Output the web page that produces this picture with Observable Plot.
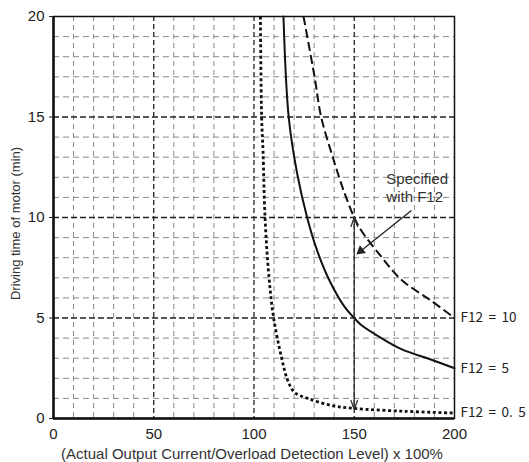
<!DOCTYPE html>
<html>
<head>
<meta charset="utf-8">
<script src="https://cdn.jsdelivr.net/npm/d3@7"></script>
<script src="https://cdn.jsdelivr.net/npm/@observablehq/plot@0.6"></script>
<style>
  body { margin: 0; background: #fff; }
  #chart svg { display: block; }
</style>
</head>
<body>
<div id="chart"></div>
<script>
// Curves: F12 = 0.5 (dotted), F12 = 5 (solid), F12 = 10 (dashed)
const ratio05 = [103.2, 103.8, 104.5, 105.5, 107.5, 109.8, 113.8, 116.8, 120.2, 126.8, 138.5, 150, 175, 200];
const time05  = [20, 15, 13.3, 10, 7, 5, 3, 1.9, 1.3, 1.0, 0.65, 0.5, 0.36, 0.27];
const ratio5  = [114.7, 117.3, 121.5, 126.5, 131.5, 137.7, 145.2, 150, 153.5, 163.5, 173.5, 188.5, 200];
const time5   = [20, 15, 12.2, 10, 8.35, 6.85, 5.55, 5, 4.65, 4.0, 3.45, 2.92, 2.5];
const ratio10 = [124.7, 130.2, 133.5, 139.3, 145.2, 150, 153.5, 163.5, 173.5, 188.5, 200];
const time10  = [20, 17, 15, 13, 11.2, 10, 9.35, 8.05, 6.9, 5.85, 5];

// Ticks and grid
const xTicks = [0, 50, 100, 150, 200];
const yTicks = [0, 5, 10, 15, 20];
const xMinor = [10, 20, 30, 40, 60, 70, 80, 90, 110, 120, 130, 140, 160, 170, 180, 190];
const yMinor = [1, 2, 3, 4, 6, 7, 8, 9, 11, 12, 13, 14, 16, 17, 18, 19];
const xMajor = [50, 100, 150];
const yMajor = [5, 10, 15];

// Labels and annotations
const curveLabels = ["F12 = 10", "F12 = 5", "F12 = 0. 5"];
const curveLabelY = [5, 2.5, 0.3];
const xTitle = "(Actual Output Current/Overload Detection Level) x 100%";
const yTitle = "Driving time of motor (min)";
const noteText = "Specified\nwith F12";
const noteX = 166, noteY = 11.5;
const spanX = 150, spanMid = 5, spanTop = 10, spanBottom = 0.45;
const pointerFrom = [178.5, 10.35], pointerTo = [151.5, 8.2];

const toRows = (xs, ys) => xs.map((x, i) => ({x, y: ys[i]}));
const labelRows = curveLabels.map((t, i) => ({t, y: curveLabelY[i]}));
const tickFont = "'Liberation Sans Narrow', 'Liberation Sans', Arial, sans-serif";

const chart = Plot.plot({
  width: 529,
  height: 462,
  marginLeft: 53,
  marginRight: 75,
  marginTop: 16,
  marginBottom: 44,
  x: {domain: [0, 200]},
  y: {domain: [0, 20]},
  style: {fontFamily: "'Liberation Sans', Arial, sans-serif", fontSize: "14px", color: "#222", background: "#fff"},
  marks: [
    Plot.ruleX(xMinor, {stroke: "#8a8a8a", strokeWidth: 1, strokeDasharray: "5,4"}),
    Plot.ruleY(yMinor, {stroke: "#8a8a8a", strokeWidth: 1, strokeDasharray: "6,4"}),
    Plot.ruleX(xMajor, {stroke: "#222", strokeWidth: 1.3, strokeDasharray: "5,3"}),
    Plot.ruleY(yMajor, {stroke: "#222", strokeWidth: 1.3, strokeDasharray: "6,3"}),
    Plot.line(toRows(ratio05, time05), {x: "x", y: "y", curve: "catmull-rom", stroke: "#111", strokeWidth: 2.8, strokeDasharray: "3,2.6", strokeLinecap: "butt"}),
    Plot.line(toRows(ratio5, time5), {x: "x", y: "y", curve: "catmull-rom", stroke: "#111", strokeWidth: 2}),
    Plot.line(toRows(ratio10, time10), {x: "x", y: "y", curve: "catmull-rom", stroke: "#111", strokeWidth: 2, strokeDasharray: "9,4", strokeLinecap: "butt"}),
    // double-headed span arrow at 150 %
    Plot.arrow([{x: spanX, y1: spanMid, y2: spanTop}, {x: spanX, y1: spanMid, y2: spanBottom}],
      {x1: "x", x2: "x", y1: "y1", y2: "y2", stroke: "#333", strokeWidth: 1.3, headLength: 11, headAngle: 40}),
    // pointer from the note
    Plot.link([{x1: pointerFrom[0], y1: pointerFrom[1], x2: pointerTo[0], y2: pointerTo[1]}],
      {x1: "x1", y1: "y1", x2: "x2", y2: "y2", stroke: "#222", strokeWidth: 1.3}),
    Plot.dot([{x: pointerTo[0], y: pointerTo[1]}],
      {x: "x", y: "y", symbol: "triangle", r: 3.6, rotate: 231, dx: 3.5, dy: -2.8, fill: "#222", stroke: "none"}),
    Plot.text([noteText], {x: noteX, y: noteY, text: d => d, textAnchor: "start", lineHeight: 1.2, fontSize: 15, fill: "#333"}),
    Plot.text(labelRows, {x: 200, y: "y", text: "t", dx: 6, textAnchor: "start", fontSize: 13.5, fill: "#222", fontFamily: "'Noto Sans CJK JP', sans-serif"}),
    Plot.frame({stroke: "#111", strokeWidth: 1.5}),
    Plot.ruleX([0], {stroke: "#111", strokeWidth: 2.5}),
    Plot.ruleY([0], {stroke: "#111", strokeWidth: 2.5}),
    Plot.axisX({ticks: xTicks, tickSize: 0, tickPadding: 10, label: null, fontSize: 15, fontFamily: tickFont}),
    Plot.axisY({ticks: yTicks, tickSize: 4, tickPadding: 5, label: null, fontSize: 15, fontFamily: tickFont}),
    Plot.text([xTitle], {frameAnchor: "bottom", text: d => d, textAnchor: "middle", lineAnchor: "middle", dx: -2, dy: 36, fontSize: 15, fill: "#333"}),
    Plot.text([yTitle], {frameAnchor: "left", text: d => d, textAnchor: "middle", lineAnchor: "middle", rotate: -90, dx: -38, dy: 6, fontSize: 13, fill: "#333"})
  ]
});
// wider word spacing on the curve labels, as in the original
d3.select(chart).selectAll("text").filter(function() { return /^F12/.test(this.textContent); })
  .style("word-spacing", "2.5px");
document.getElementById("chart").appendChild(chart);
</script>
</body>
</html>
